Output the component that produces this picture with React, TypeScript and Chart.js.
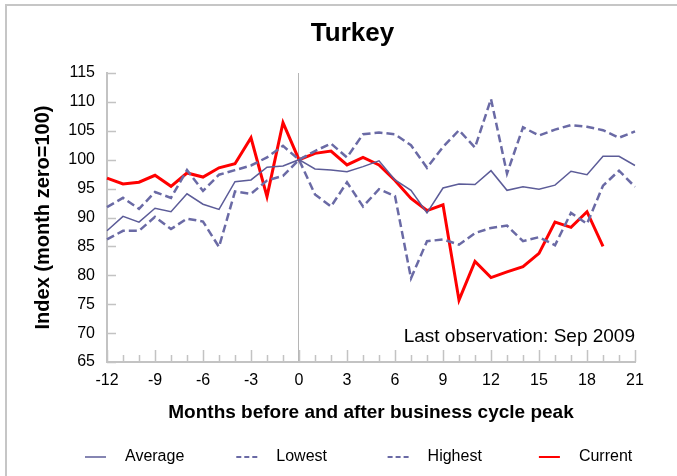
import { useEffect, useRef } from "react";
import { Chart, registerables } from "chart.js";

Chart.register(...registerables);

// ---- data ----
const months = [-12, -11, -10, -9, -8, -7, -6, -5, -4, -3, -2, -1, 0, 1, 2, 3, 4, 5, 6, 7, 8, 9, 10, 11, 12, 13, 14, 15, 16, 17, 18, 19, 20, 21];

const averageValues = [87.7, 90.2, 89.2, 91.6, 91.0, 94.1, 92.3, 91.4, 96.2, 96.5, 98.7, 98.9, 100, 98.4, 98.2, 97.9, 98.8, 99.8, 96.5, 94.7, 90.8, 95.1, 95.8, 95.7, 98.1, 94.7, 95.3, 94.9, 95.6, 98.0, 97.4, 100.6, 100.6, 99.0];

const lowestValues = [86.2, 87.7, 87.7, 90.1, 88.0, 89.8, 89.3, 84.9, 94.5, 94.1, 96.4, 97.2, 100, 94.0, 91.9, 96.1, 91.9, 94.9, 93.7, 79.5, 85.9, 86.2, 85.3, 87.3, 88.2, 88.6, 85.9, 86.6, 85.2, 90.8, 88.9, 95.5, 98.1, 95.3];

const highestValues = [91.8, 93.4, 91.5, 94.4, 93.4, 98.2, 94.6, 97.4, 98.2, 99.0, 100.4, 102.4, 100, 101.5, 102.8, 100.4, 104.4, 104.7, 104.4, 102.5, 98.6, 102.2, 105.1, 102.1, 110.5, 97.6, 105.6, 104.2, 105.2, 106.0, 105.7, 105.1, 103.8, 104.9];

const currentValues = [96.8, 95.8, 96.1, 97.3, 95.4, 97.7, 97.0, 98.6, 99.3, 103.8, 93.6, 106.4, 100, 101.1, 101.5, 99.1, 100.4, 99.1, 96.4, 93.3, 91.2, 92.2, 75.7, 82.4, 79.6, 80.6, 81.5, 83.8, 89.2, 88.3, 91.0, 85.0];

const seriesNames = ["Average", "Lowest", "Highest", "Current"];
const yTicks = { min: 65, max: 115, step: 5 };

const chartTitle = "Turkey";
const xTitle = "Months before and after business cycle peak";
const yTitle = "Index (month zero=100)";
const noteText = "Last observation: Sep 2009";

// ---- styles ----
const FONT = '"Liberation Sans", Arial, Helvetica, sans-serif';
const AXIS_COLOR = "#c3c3c3";
const AVG_COLOR = "#5c5c98";
const DASH_COLOR = "#6a6aa5";
const CUR_COLOR = "#ff0000";
const CANVAS_LEFT = 28;
const CANVAS_W = 677 - CANVAS_LEFT;
const CANVAS_H = 476;

const inwardTicks = {
  id: "inwardTicks",
  beforeDatasetsDraw(chart: any) {
    const { ctx, chartArea, scales } = chart;
    const x = scales.x;
    const y = scales.y;
    ctx.save();
    ctx.strokeStyle = AXIS_COLOR;
    ctx.lineWidth = 1.5;
    ctx.beginPath();
    months.forEach((m, i) => {
      const px = Math.round(x.getPixelForValue(i)) + 0.5;
      const len = m % 3 === 0 ? 12 : 7;
      ctx.moveTo(px, chartArea.bottom);
      ctx.lineTo(px, chartArea.bottom - len);
    });
    y.ticks.forEach((t: any) => {
      const py = Math.round(y.getPixelForValue(t.value)) + 0.5;
      ctx.moveTo(chartArea.left, py);
      ctx.lineTo(chartArea.left + 9, py);
    });
    ctx.stroke();
    ctx.restore();
  },
};

const textAndLegend = {
  id: "textAndLegend",
  afterDraw(chart: any) {
    const { ctx, chartArea } = chart;
    ctx.save();
    // main title, centred over the plot incl. its tick labels
    ctx.fillStyle = "#000";
    ctx.font = `bold 26px ${FONT}`;
    ctx.textAlign = "center";
    ctx.textBaseline = "middle";
    ctx.fillText(chartTitle, 352.5 - CANVAS_LEFT, 34);

    // annotation
    ctx.font = `19px ${FONT}`;
    ctx.textAlign = "right";
    ctx.textBaseline = "alphabetic";
    ctx.fillText(noteText, chartArea.right, chartArea.bottom - 20);

    // legend
    const legendY = 457;
    const startX = 57;
    const pitch = 151.3;
    ctx.font = `16px ${FONT}`;
    ctx.textAlign = "left";
    ctx.textBaseline = "middle";
    chart.data.datasets
      .slice()
      .sort((a: any, b: any) => seriesNames.indexOf(a.label) - seriesNames.indexOf(b.label))
      .forEach((ds: any, i: number) => {
        const sx = startX + i * pitch;
        ctx.beginPath();
        ctx.strokeStyle = ds.borderColor;
        ctx.lineWidth = ds.label === "Average" ? 1.5 : 2;
        ctx.setLineDash(ds.borderDash && ds.borderDash.length ? [5, 3] : []);
        ctx.moveTo(sx, legendY);
        ctx.lineTo(sx + 21, legendY);
        ctx.stroke();
        ctx.setLineDash([]);
        ctx.fillStyle = "#000";
        ctx.fillText(ds.label, sx + 40, legendY);
      });
    ctx.restore();
  },
};

export default function App() {
  const canvasRef = useRef<HTMLCanvasElement | null>(null);

  useEffect(() => {
    if (!canvasRef.current) return;
    Chart.defaults.font.family = FONT;
    const chart = new Chart(canvasRef.current, {
      type: "line",
      data: {
        labels: months.map(String),
        datasets: [
          {
            label: seriesNames[0],
            data: averageValues,
            borderColor: AVG_COLOR,
            borderWidth: 1.5,
            pointRadius: 0,
            tension: 0,
            fill: false,
          },
          {
            label: seriesNames[1],
            data: lowestValues,
            borderColor: DASH_COLOR,
            borderWidth: 2.5,
            borderDash: [8, 4],
            pointRadius: 0,
            tension: 0,
            fill: false,
          },
          {
            label: seriesNames[2],
            data: highestValues,
            borderColor: DASH_COLOR,
            borderWidth: 2.5,
            borderDash: [8, 4],
            pointRadius: 0,
            tension: 0,
            fill: false,
          },
          {
            label: seriesNames[3],
            data: currentValues,
            borderColor: CUR_COLOR,
            borderWidth: 3,
            pointRadius: 0,
            tension: 0,
            fill: false,
          },
        ],
      },
      options: {
        responsive: false,
        animation: false,
        layout: { padding: { left: 3, right: 42, top: 73, bottom: 51.6 } },
        plugins: {
          legend: { display: false },
          tooltip: { enabled: false },
          title: { display: false },
        },
        scales: {
          x: {
            type: "category",
            offset: false,
            grid: {
              display: true,
              drawTicks: false,
              lineWidth: 1,
              color: (ctx: any) => (months[ctx.index] === 0 ? "#b5b5b5" : "rgba(0,0,0,0)"),
            },
            border: { display: true, color: AXIS_COLOR, width: 2 },
            ticks: {
              autoSkip: false,
              maxRotation: 0,
              padding: 9,
              color: "#000",
              font: { size: 16, family: FONT },
              callback: (_v: any, i: number) => (months[i] % 3 === 0 ? String(months[i]) : ""),
            },
            title: {
              display: true,
              text: xTitle,
              color: "#000",
              font: { size: 19, weight: "bold", family: FONT },
              padding: { top: 2.4, bottom: 0 },
            },
          },
          y: {
            min: yTicks.min,
            max: yTicks.max,
            grid: { display: true, drawOnChartArea: false, drawTicks: false },
            border: { display: true, color: AXIS_COLOR, width: 2 },
            ticks: {
              stepSize: yTicks.step,
              padding: 12,
              color: "#000",
              font: { size: 16, family: FONT },
            },
            title: {
              display: true,
              text: yTitle,
              color: "#000",
              font: { size: 20, weight: "bold", family: FONT },
              padding: { top: 0, bottom: 1.3 },
            },
          },
        },
      },
      plugins: [inwardTicks, textAndLegend],
    } as any);
    return () => chart.destroy();
  }, []);

  return (
    <div>
      <div
        style={{
          position: "absolute",
          left: 5,
          top: 4,
          width: 672,
          height: 472,
          borderLeft: "2px solid #c6c6c6",
          borderTop: "2px solid #c6c6c6",
          boxSizing: "border-box",
        }}
      />
      <canvas
        ref={canvasRef}
        width={CANVAS_W}
        height={CANVAS_H}
        style={{ position: "absolute", left: CANVAS_LEFT, top: 0, width: CANVAS_W, height: CANVAS_H }}
      />
    </div>
  );
}
